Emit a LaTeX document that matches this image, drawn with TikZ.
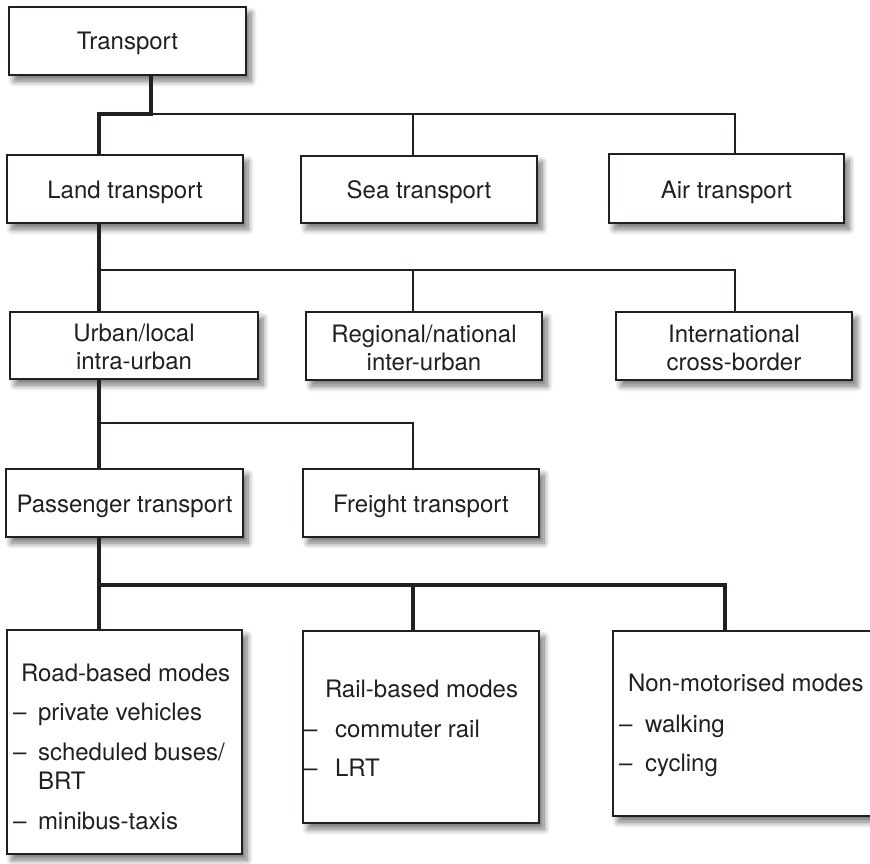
\documentclass[tikz,border=0pt]{standalone}
\usepackage{fontspec}
\setmainfont{TeX Gyre Heros}
\usetikzlibrary{shadows.blur}
\definecolor{ink}{HTML}{231F20}
\tikzset{
  box/.style={draw=ink, line width=1.6pt, fill=white, inner sep=0pt, outer sep=0pt,
    blur shadow={shadow xshift=5pt, shadow yshift=-6pt, shadow blur radius=6pt,
      shadow blur steps=10, shadow opacity=55}},
  lbl/.style={anchor=base, inner sep=0pt, outer sep=0pt, text=ink,
    font=\fontsize{24}{28}\selectfont},
  item/.style={lbl, anchor=base west},
  thinlink/.style={draw=ink, line width=1.5pt},
  thicklink/.style={draw=ink, line width=4pt, line join=miter},
}
% box from corner (#2,#3) to corner (#4,#5), y measured downwards
\newcommand\tbox[5]{%
  \node[box, minimum width={(#4)-(#2)}, minimum height={(#5)-(#3)}]
    (#1) at ({((#2)+(#4))/2},{((#3)+(#5))/2}) {};}
\begin{document}
\begin{tikzpicture}[x=1pt, y=-1pt]
\clip (0,0) rectangle (870,864);
\useasboundingbox (0,0) rectangle (870,864);

% ---- boxes ----
\tbox{transport}{9}{7}{246}{75}
\tbox{land}{7}{155}{243}{223}
\tbox{sea}{301}{156}{537}{223}
\tbox{air}{609}{154}{844}{223}
\tbox{urban}{10}{312}{258}{379}
\tbox{regional}{306}{312}{542}{380}
\tbox{intl}{616}{312}{852}{380}
\tbox{pass}{6}{469}{243}{537}
\tbox{freight}{303}{469}{539}{537}
\tbox{road}{7}{630}{242}{854}
\tbox{rail}{303}{631}{539}{823}
\tbox{nonmot}{613}{631}{900}{816}

% ---- labels ----
\node[lbl] (transportT) at (127.5,50) {Transport};
\node[lbl] (landT) at (125,198) {Land transport};
\node[lbl] (seaT) at (419,198) {Sea transport};
\node[lbl] (airT) at (726.5,198) {Air transport};
\node[lbl] (urbanT1) at (134,341) {Urban/local};
\node[lbl] (urbanT2) at (134,369.5) {intra-urban};
\node[lbl] (regionalT1) at (424,342) {Regional/national};
\node[lbl] (regionalT2) at (424,370.5) {inter-urban};
\node[lbl] (intlT1) at (734,342) {International};
\node[lbl] (intlT2) at (734,370.5) {cross-border};
\node[lbl] (passT) at (124.5,512) {Passenger transport};
\node[lbl] (freightT) at (421,512) {Freight transport};

% road-based list
\node[item] (roadH) at (21,681) {Road-based modes};
\node[item] (roadD1) at (13,720) {–};
\node[item] (roadI1) at (38,720) {private vehicles};
\node[item] (roadD2) at (13,760) {–};
\node[item] (roadI2) at (38,760) {scheduled buses/};
\node[item] (roadI2b) at (38,789) {BRT};
\node[item] (roadD3) at (13,829) {–};
\node[item] (roadI3) at (38,829) {minibus-taxis};

% rail-based list
\node[item] (railH) at (325,697) {Rail-based modes};
\node[item] (railD1) at (304,737) {–};
\node[item] (railI1) at (335,737) {commuter rail};
\node[item] (railD2) at (304,776) {–};
\node[item] (railI2) at (335,776) {LRT};

% non-motorised list
\node[item] (nonmotH) at (628,691) {Non-motorised modes};
\node[item] (nonmotD1) at (619,732) {–};
\node[item] (nonmotI1) at (645,732) {walking};
\node[item] (nonmotD2) at (619,771) {–};
\node[item] (nonmotI2) at (645,771) {cycling};

% ---- junctions and columns ----
\coordinate (lx) at (99,0);
\coordinate (mx) at (413,0);
\coordinate (rx) at (735,0);
\coordinate (rx2) at (725,0);
\coordinate (t1) at (151,114);
\coordinate (t2) at (99,270);
\coordinate (t3) at (99,423);
\coordinate (t4) at (99,585);

% ---- connectors ----
% level 1
\draw[thinlink] (t1) -| (rx |- air.north);
\draw[thinlink] (mx |- t1) -- (mx |- sea.north);
\draw[thicklink] (t1 |- transport.south) -- (t1) -| (lx |- land.north);
% level 2
\draw[thinlink] (t2) -| (rx |- intl.north);
\draw[thinlink] (mx |- t2) -- (mx |- regional.north);
\draw[thicklink] (lx |- land.south) -- (lx |- urban.north);
% level 3
\draw[thinlink] (t3) -| (mx |- freight.north);
\draw[thicklink] (lx |- urban.south) -- (lx |- pass.north);
% level 4
\draw[thicklink] (lx |- pass.south) -- (lx |- road.north);
\draw[thicklink] (t4) -| (rx2 |- nonmot.north);
\draw[thicklink] (mx |- t4) -- (mx |- rail.north);
\end{tikzpicture}
\end{document}
